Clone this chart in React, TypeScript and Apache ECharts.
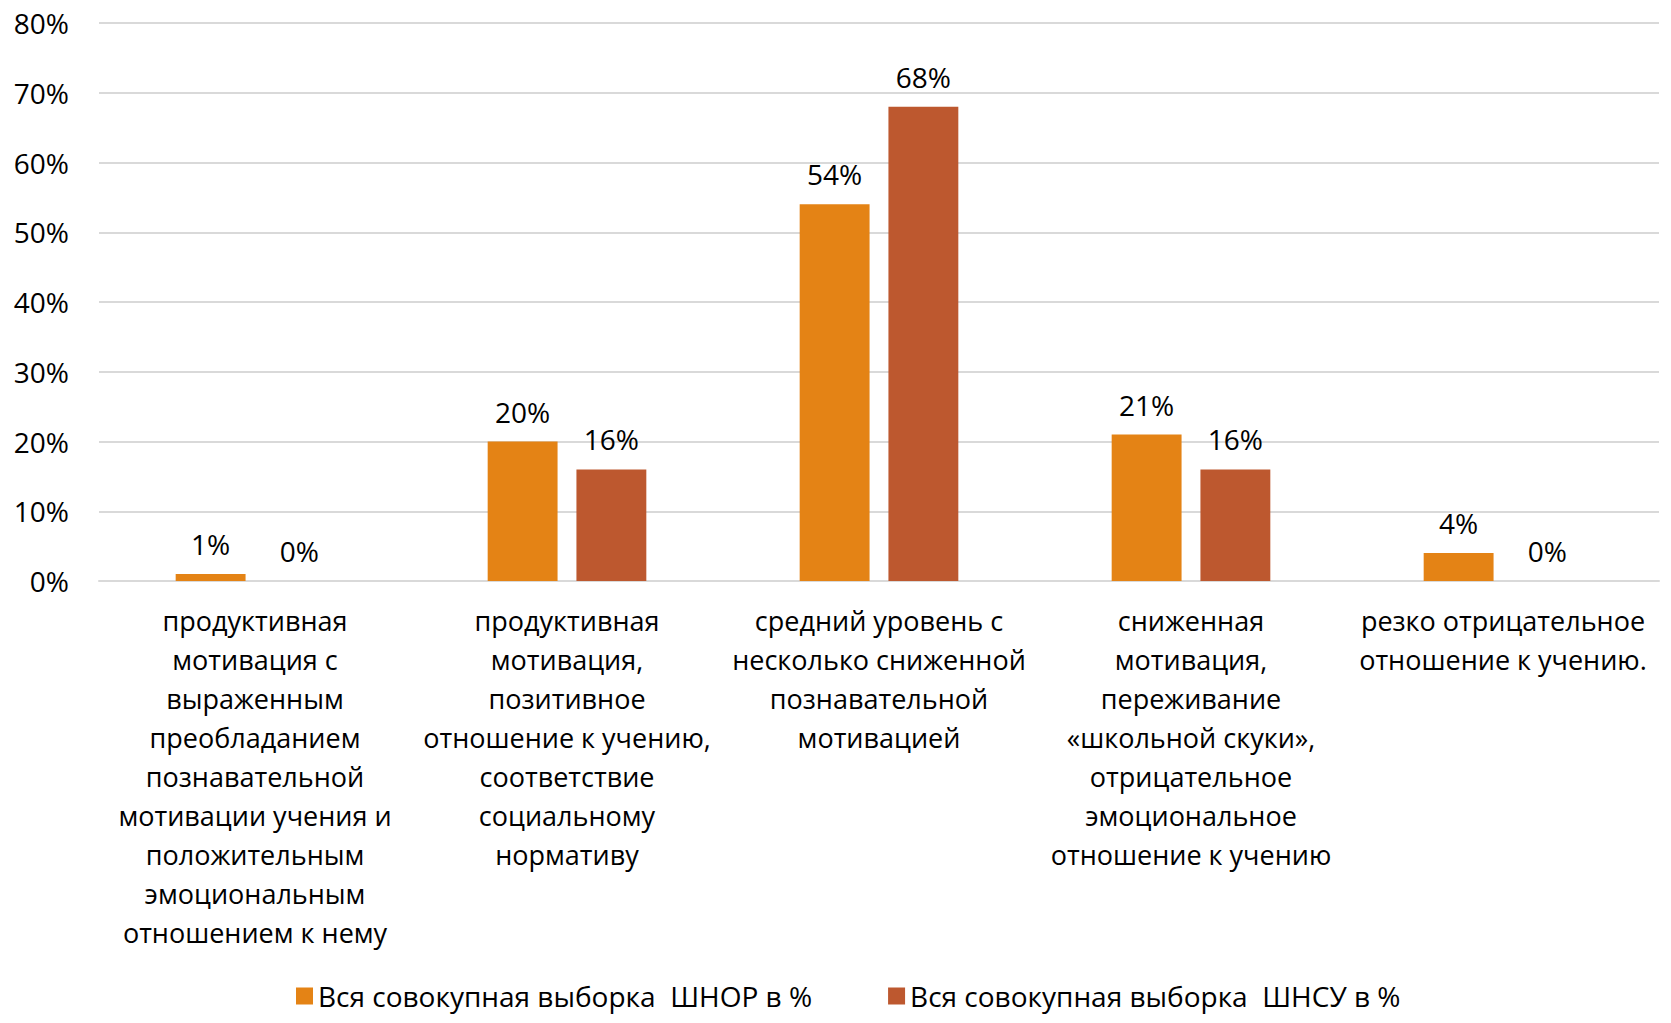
import React, { useEffect, useRef } from "react";
import * as echarts from "echarts";

const categories = [
  "продуктивная\nмотивация с\nвыраженным\nпреобладанием\nпознавательной\nмотивации учения и\nположительным\nэмоциональным\nотношением к нему",
  "продуктивная\nмотивация,\nпозитивное\nотношение к учению,\nсоответствие\nсоциальному\nнормативу",
  "средний уровень с\nнесколько сниженной\nпознавательной\nмотивацией",
  "сниженная\nмотивация,\nпереживание\n«школьной скуки»,\nотрицательное\nэмоциональное\nотношение к учению",
  "резко отрицательное\nотношение к учению.",
];
const seriesNames = ["Вся совокупная выборка  ШНОР в %", "Вся совокупная выборка  ШНСУ в %"];
const shnorValues = [1, 20, 54, 21, 4];
const shnsuValues = [0, 16, 68, 16, 0];
const yTicks = [0, 10, 20, 30, 40, 50, 60, 70, 80];

const FONT = "'Open Sans', sans-serif";

export default function App() {
  const ref = useRef<HTMLDivElement>(null);
  useEffect(() => {
    if (!ref.current) return;
    const chart = echarts.init(ref.current, undefined, { renderer: "svg" });
    const label = {
      show: true,
      position: "top" as const,
      distance: 16,
      color: "#000",
      fontFamily: FONT,
      fontSize: 28,
      formatter: (p: any) => `${p.value}%`,
    };
    chart.setOption({
      animation: false,
      textStyle: { fontFamily: FONT },
      grid: { left: 99, right: 12, top: 23, bottom: 442 },
      legend: {
        bottom: 8,
        left: 291,
        itemWidth: 17,
        itemHeight: 17,
        itemGap: 76,
        icon: "rect",
        textStyle: { fontFamily: FONT, fontSize: 28, color: "#000" },
        data: seriesNames,
      },
      xAxis: {
        type: "category",
        data: categories,
        axisLine: { show: true, lineStyle: { color: "#d9d9d9", width: 2 } },
        axisTick: { show: false },
        axisLabel: {
          interval: 0,
          color: "#000",
          fontFamily: FONT,
          fontSize: 27,
          lineHeight: 39,
          margin: 20,
          align: "center",
        },
      },
      yAxis: {
        type: "value",
        min: yTicks[0],
        max: yTicks[yTicks.length - 1],
        interval: 10,
        axisLine: { show: false },
        axisTick: { show: false },
        splitLine: { lineStyle: { color: "#d9d9d9", width: 2 } },
        axisLabel: {
          color: "#000",
          fontFamily: FONT,
          fontSize: 28,
          margin: 30,
          formatter: (v: number) => `${v}%`,
        },
      },
      series: [
        {
          name: seriesNames[0],
          type: "bar",
          data: shnorValues,
          barWidth: "22.4%",
          barGap: "27%",
          itemStyle: { color: "#E48315" },
          label,
        },
        {
          name: seriesNames[1],
          type: "bar",
          data: shnsuValues,
          barWidth: "22.4%",
          itemStyle: { color: "#BD582F" },
          label,
        },
      ],
    });
    return () => chart.dispose();
  }, []);
  return (
    <div
      ref={ref}
      style={{ position: "absolute", left: 0, top: 0, width: 1671, height: 1023 }}
    />
  );
}
